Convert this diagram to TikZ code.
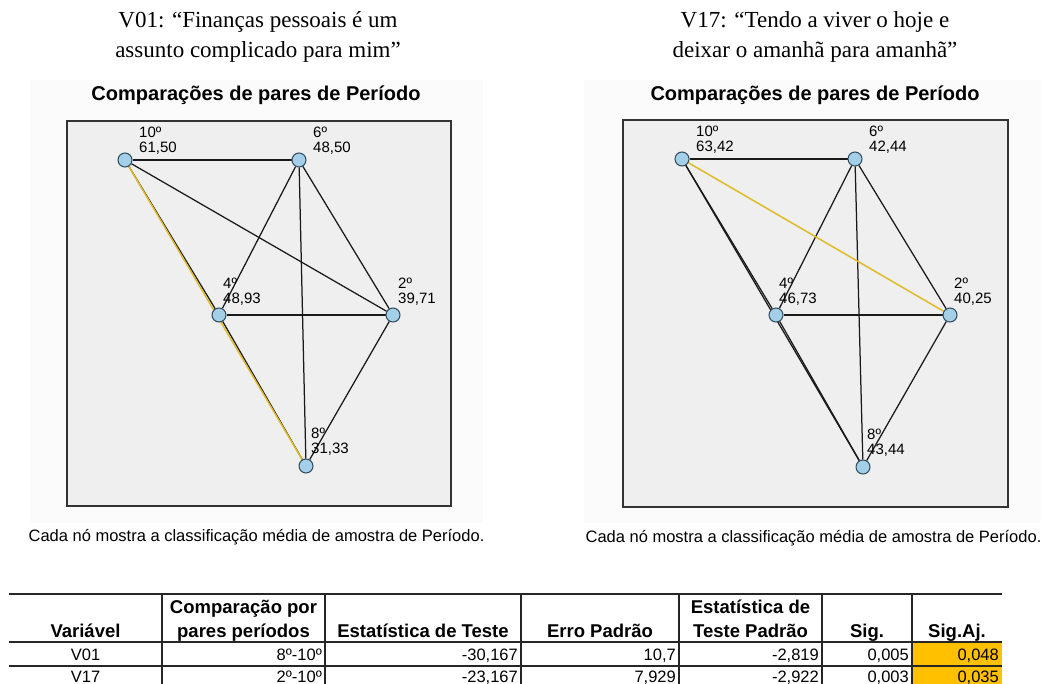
\documentclass[tikz,border=0pt]{standalone}
\usepackage{fontspec}
\setmainfont{Liberation Serif}
\newfontfamily\arial{Liberation Sans}
\usetikzlibrary{backgrounds}
\definecolor{boxfill}{HTML}{EFEFEF}
\definecolor{chartbg}{HTML}{FBFBFB}
\definecolor{nodefill}{HTML}{A3D0E8}
\definecolor{nodeline}{HTML}{2F4A58}
\definecolor{edgeyellow}{HTML}{E0BB28}
\definecolor{sigyellow}{HTML}{FFC000}
\tikzset{
  panelbox/.style={draw=black!80, line width=1.4pt, fill=boxfill},
  pnode/.style={circle, draw=nodeline, fill=nodefill, line width=1pt, minimum size=14pt, inner sep=0pt},
  edgeline/.style={draw=black!90, line width=1.25pt},
  sigedge/.style={draw=edgeyellow, line width=1.5pt},
  lbl/.style={font=\arial\fontsize{15}{15.5}\selectfont, align=left, anchor=north west, inner sep=0pt},
  ttl/.style={font=\arial\bfseries\fontsize{20}{24}\selectfont, inner sep=0pt},
  head/.style={font=\fontsize{23}{29.5}\selectfont, align=center, inner sep=0pt},
  capt/.style={font=\arial\fontsize{16.5}{20}\selectfont, inner sep=0pt},
  th/.style={font=\arial\bfseries\fontsize{18.5}{22}\selectfont, anchor=base, inner sep=0pt},
  td/.style={font=\arial\fontsize{16.5}{19}\selectfont, anchor=base east, inner sep=0pt},
  tdc/.style={font=\arial\fontsize{16.5}{19}\selectfont, anchor=base, inner sep=0pt},
  rule/.style={draw=black!85, line width=1.7pt},
  vrule/.style={draw=black!85, line width=1.3pt}
}
\begin{document}
\begin{tikzpicture}[x=1pt,y=-1pt]
\useasboundingbox (0,0) rectangle (1044,684);

% headings
\node[head] (hL) at (258,37) {V01: “Finanças pessoais é um\\assunto complicado para mim”};
\node[head] (hR) at (815,37) {V17: “Tendo a viver o hoje e\\deixar o amanhã para amanhã”};
\node[ttl] (tL) at (256,95) {Comparações de pares de Período};
\node[ttl] (tR) at (815,95) {Comparações de pares de Período};

% ---------- left graph ----------
\node[pnode] (a10) at (125,160) {};
\node[pnode] (a6)  at (299,160) {};
\node[pnode] (a4)  at (219,315) {};
\node[pnode] (a2)  at (393,315) {};
\node[pnode] (a8)  at (306,466) {};
\node[lbl] (la10) at (139,126.5) {10º\\61,50};
\node[lbl] (la6)  at (313,126.5) {6º\\48,50};
\node[lbl] (la4)  at (223,277.5) {4º\\48,93};
\node[lbl] (la2)  at (398,277.5) {2º\\39,71};
\node[lbl] (la8)  at (311,427.5) {8º\\31,33};

% ---------- right graph ----------
\node[pnode] (b10) at (682,159) {};
\node[pnode] (b6)  at (855,159) {};
\node[pnode] (b4)  at (776,315) {};
\node[pnode] (b2)  at (950,315) {};
\node[pnode] (b8)  at (863,467) {};
\node[lbl] (lb10) at (696,125.5) {10º\\63,42};
\node[lbl] (lb6)  at (869,125.5) {6º\\42,44};
\node[lbl] (lb4)  at (779,277.5) {4º\\46,73};
\node[lbl] (lb2)  at (954,277.5) {2º\\40,25};
\node[lbl] (lb8)  at (867,428.5) {8º\\43,44};

\begin{scope}[on background layer]
  \fill[white] (0,0) rectangle (1044,684);
  \fill[chartbg] (30,80) rectangle (483,523);
  \fill[chartbg] (584,80) rectangle (1041,523);
  \draw[panelbox] (67,121) rectangle (451,506);
  \draw[panelbox] (623,120) rectangle (1008,507);
  % left edges
  \draw[edgeline] (a10) -- (a6);
  \draw[edgeline] (a10) -- (a2);
  \draw[edgeline] (a10) -- (a4);
  \draw[edgeline] (a4) -- (a8);
  \draw[edgeline] (a6) -- (a4);
  \draw[edgeline] (a6) -- (a2);
  \draw[edgeline] (a6) -- (a8);
  \draw[edgeline] (a4) -- (a2);
  \draw[edgeline] (a2) -- (a8);
  \draw[sigedge] (a10) -- (a8);
  % right edges
  \draw[edgeline] (b10) -- (b6);
  \draw[edgeline] (b10) -- (b4);
  \draw[edgeline] (b10) -- (b8);
  \draw[edgeline] (b4) -- (b8);
  \draw[edgeline] (b6) -- (b4);
  \draw[edgeline] (b6) -- (b2);
  \draw[edgeline] (b6) -- (b8);
  \draw[edgeline] (b4) -- (b2);
  \draw[edgeline] (b2) -- (b8);
  \draw[sigedge] (b10) -- (b2);
\end{scope}

% captions
\node[capt] (cL) at (256.5,537) {Cada nó mostra a classificação média de amostra de Período.};
\node[capt] (cR) at (813.5,538) {Cada nó mostra a classificação média de amostra de Período.};

% ---------- table ----------
\fill[sigyellow] (912,642) rectangle (1002,700);
\draw[rule] (9,594) -- (1002,594);
\draw[rule] (9,642) -- (1002,642);
\draw[rule] (9,666) -- (1002,666);
\foreach \xx in {162,325,521,679,822,912} { \draw[vrule] (\xx,594) -- (\xx,700); }

\node[th] (h1)  at (85.5,637.5) {Variável};
\node[th] (h2a) at (243.5,613.5) {Comparação por};
\node[th] (h2b) at (243.5,637.5) {pares períodos};
\node[th] (h3)  at (423,637.5) {Estatística de Teste};
\node[th] (h4)  at (600,637.5) {Erro Padrão};
\node[th] (h5a) at (750.5,613.5) {Estatística de};
\node[th] (h5b) at (750.5,637.5) {Teste Padrão};
\node[th] (h6)  at (867,637.5) {Sig.};
\node[th] (h7)  at (957,637.5) {Sig.Aj.};

\node[tdc] (r1c1) at (85.5,660.7) {V01};
\node[td] (r1c2) at (322,660.7) {8º-10º};
\node[td] (r1c3) at (518,660.7) {-30,167};
\node[td] (r1c4) at (676,660.7) {10,7};
\node[td] (r1c5) at (819,660.7) {-2,819};
\node[td] (r1c6) at (909,660.7) {0,005};
\node[td] (r1c7) at (999,660.7) {0,048};

\node[tdc] (r2c1) at (85.5,682.7) {V17};
\node[td] (r2c2) at (322,682.7) {2º-10º};
\node[td] (r2c3) at (518,682.7) {-23,167};
\node[td] (r2c4) at (676,682.7) {7,929};
\node[td] (r2c5) at (819,682.7) {-2,922};
\node[td] (r2c6) at (909,682.7) {0,003};
\node[td] (r2c7) at (999,682.7) {0,035};
\end{tikzpicture}
\end{document}
